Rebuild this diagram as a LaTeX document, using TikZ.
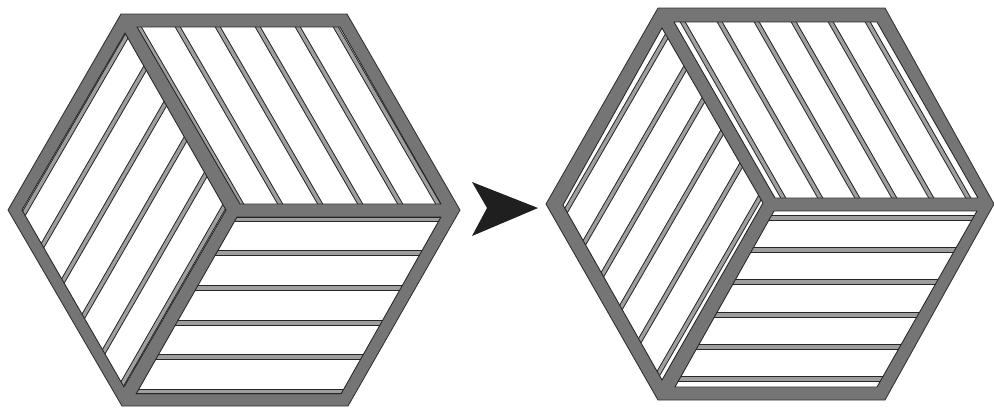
\documentclass[tikz,border=0pt]{standalone}
\begin{document}
\begin{tikzpicture}[
			x=0.02cm,
			y=-0.02cm,
			line join=round,
			khung/.style={fill=black!54, draw=black!80, line width=0.5pt},
			vien/.style={draw=black!85, line width=0.5pt},
			nan/.style={draw=black!85, line width=0.55pt, double=black!38, double distance=1.9pt}
			]
			\useasboundingbox (0,0) rectangle (994,407);
			\begin{scope}
				\draw[khung] (121,14) -- (347,14) -- (460,210) -- (348,406) -- (122,406) -- (8,210) -- cycle;
				\begin{scope}
					\clip (137,27) -- (340,27) -- (441,204) -- (240,204) -- cycle;
					\fill[white] (100,0) rectangle (460,220);
					\foreach \a in {139,178,218,258,298,336}
						\draw[nan] (\a-6,17) -- (\a+108,214);
				\end{scope}
				\draw[vien] (137,27) -- (340,27) -- (441,204) -- (240,204) -- cycle;
				\begin{scope}
					\clip (237,217) -- (441,217) -- (341,394) -- (136,394) -- cycle;
					\fill[white] (100,200) rectangle (460,400);
					\foreach \b in {219.5,253,288,323,357,391.5}
						\draw[nan] (100,\b) -- (460,\b);
				\end{scope}
				\draw[vien] (237,217) -- (441,217) -- (341,394) -- (136,394) -- cycle;
				\begin{scope}
					\clip (125,33) -- (226,210) -- (124,387) -- (22,210) -- cycle;
					\fill[white] (0,20) rectangle (240,400);
					\foreach \t in {0.018,0.2,0.4,0.6,0.8,0.982}
						\draw[nan] ({130+101*\t},{24+177*\t}) -- ({17+102*\t},{219+177*\t});
				\end{scope}
				\draw[vien] (125,33) -- (226,210) -- (124,387) -- (22,210) -- cycle;
			\end{scope}
			\fill[black!88] (472,182) -- (538,208) -- (472,236) -- (487,208) -- cycle;
			\begin{scope}
				\draw[khung] (658,8) -- (885,8) -- (994,204) -- (885,400) -- (658,400) -- (546,204) -- cycle;
				\begin{scope}
					\clip (674,22) -- (877,22) -- (978,198) -- (775,198) -- cycle;
					\fill[white] (640,0) rectangle (994,210);
					\foreach \a in {683,720,757,794,831,868}
						\draw[nan] (\a-6,12) -- (\a+106,208);
				\end{scope}
				\draw[vien] (674,22) -- (877,22) -- (978,198) -- (775,198) -- cycle;
				\begin{scope}
					\clip (774,211) -- (977,211) -- (877,387) -- (675,387) -- cycle;
					\fill[white] (640,200) rectangle (994,400);
					\foreach \b in {218,250,282,315,347,379}
						\draw[nan] (640,\b) -- (994,\b);
				\end{scope}
				\draw[vien] (774,211) -- (977,211) -- (877,387) -- (675,387) -- cycle;
				\begin{scope}
					\clip (662,28) -- (763,203) -- (662,380) -- (563,205) -- cycle;
					\fill[white] (540,20) rectangle (780,390);
					\foreach \c/\d in {666/37,685/68,703/100,722/132,741/165,760/197}
						\draw[nan] (\c+6,\d-10) -- (\c-106,\d+184);
				\end{scope}
				\draw[vien] (662,28) -- (763,203) -- (662,380) -- (563,205) -- cycle;
			\end{scope}
		\end{tikzpicture}
\end{document}
